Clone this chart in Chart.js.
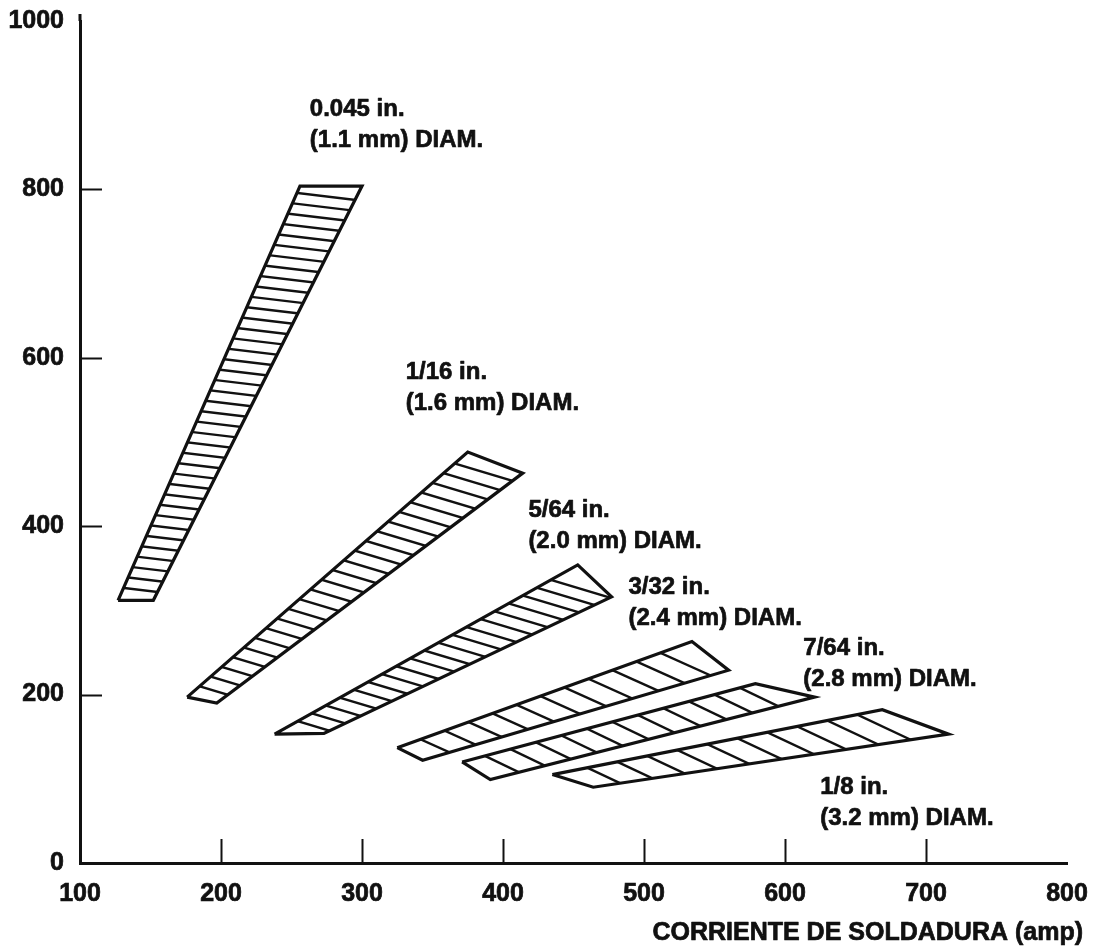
<!DOCTYPE html>
<html>
<head>
<meta charset="utf-8">
<script src="https://cdn.jsdelivr.net/npm/chart.js@4.4.1/dist/chart.umd.min.js"></script>
<style>
  html, body { margin: 0; padding: 0; background: #fff; }
  #c { display: block; }
</style>
</head>
<body>
<canvas id="c" width="1101" height="951"></canvas>
<script>
// Axis ticks
const xTicks = [100, 200, 300, 400, 500, 600, 700, 800];
const yTicks = [0, 200, 400, 600, 800, 1000];

// Electrode diameters
const diametroIn = ['0.045 in.', '1/16 in.', '5/64 in.', '3/32 in.', '7/64 in.', '1/8 in.'];
const diametroMm = ['(1.1 mm) DIAM.', '(1.6 mm) DIAM.', '(2.0 mm) DIAM.', '(2.4 mm) DIAM.', '(2.8 mm) DIAM.', '(3.2 mm) DIAM.'];

// Operating band corners, in order: lower-left, upper-left, upper-right, lower-right
const corriente11 = [127, 256, 300, 152];
const velocidad11 = [312, 804, 804, 312];
const corriente16 = [176, 375, 414, 197];
const velocidad16 = [197, 488, 463, 190];
const corriente20 = [238, 453, 477, 273];
const velocidad20 = [153, 354, 316, 154];
const corriente24 = [325, 534, 560, 343];
const velocidad24 = [137, 263, 229, 122];
const corriente28 = [371, 579, 621, 391];
const velocidad28 = [120, 213, 197, 99];
const corriente32 = [435, 669, 716, 464];
const velocidad32 = [105, 182, 153, 90];

const bandas = [
  [corriente11, velocidad11],
  [corriente16, velocidad16],
  [corriente20, velocidad20],
  [corriente24, velocidad24],
  [corriente28, velocidad28],
  [corriente32, velocidad32]
];

const FONT = '"Liberation Sans", Arial, Helvetica, sans-serif';
const INK = '#111';

const datasets = bandas.map(([xs, ys], i) => {
  const pts = xs.map((x, k) => ({ x, y: ys[k] }));
  pts.push({ x: xs[0], y: ys[0] });
  return {
    label: diametroIn[i],
    data: pts,
    borderColor: INK,
    borderWidth: 3.2,
    pointRadius: 0,
    fill: false,
    tension: 0,
    clip: false
  };
});

// Hatching inside each band: parallel strokes at a fixed slant, clipped to the band outline
const hatchPlugin = {
  id: 'hatch',
  afterDatasetsDraw(chart, args, opts) {
    const { ctx } = chart;
    const xs = chart.scales.x, ys = chart.scales.y;
    ctx.save();
    ctx.strokeStyle = INK;
    ctx.lineWidth = opts.width;
    bandas.forEach(([cx, cy], i) => {
      const p = cx.map((x, k) => [xs.getPixelForValue(x), ys.getPixelForValue(cy[k])]);
      const [bl, tl, tr, br] = p;
      const m0 = [(bl[0] + br[0]) / 2, (bl[1] + br[1]) / 2];
      const m1 = [(tl[0] + tr[0]) / 2, (tl[1] + tr[1]) / 2];
      const s = opts.slopes[i];
      const len = Math.hypot(1, s);
      const d = [1 / len, s / len];
      ctx.save();
      ctx.beginPath();
      p.forEach(([x, y], k) => (k ? ctx.lineTo(x, y) : ctx.moveTo(x, y)));
      ctx.closePath();
      ctx.clip();
      const n = opts.counts[i];
      for (let j = 1; j < n; j++) {
        const t = j / n;
        const c = [m0[0] + (m1[0] - m0[0]) * t, m0[1] + (m1[1] - m0[1]) * t];
        ctx.beginPath();
        ctx.moveTo(c[0] - 150 * d[0], c[1] - 150 * d[1]);
        ctx.lineTo(c[0] + 150 * d[0], c[1] + 150 * d[1]);
        ctx.stroke();
      }
      ctx.restore();
    });
    ctx.restore();
  }
};

// Short inward tick marks on both axes
const tickMarkPlugin = {
  id: 'tickMarks',
  afterDraw(chart, args, opts) {
    const { ctx, chartArea } = chart;
    const xs = chart.scales.x, ys = chart.scales.y;
    ctx.save();
    ctx.strokeStyle = INK;
    ctx.lineWidth = 2;
    xTicks.slice(1, -1).forEach(v => {
      const px = Math.round(xs.getPixelForValue(v)) + 0.5;
      ctx.beginPath();
      ctx.moveTo(px, chartArea.bottom);
      ctx.lineTo(px, chartArea.bottom - opts.xLen);
      ctx.stroke();
    });
    yTicks.slice(1, -1).forEach(v => {
      const py = Math.round(ys.getPixelForValue(v)) + 0.5;
      ctx.beginPath();
      ctx.moveTo(chartArea.left, py);
      ctx.lineTo(chartArea.left + opts.yLen, py);
      ctx.stroke();
    });
    // axis line runs a little past the 1000 mark
    ctx.lineWidth = 3;
    ctx.beginPath();
    ctx.moveTo(chartArea.left, chartArea.top);
    ctx.lineTo(chartArea.left, chartArea.top - opts.yOvershoot);
    ctx.stroke();
    ctx.restore();
  }
};

// Diameter labels next to each band, plus the current axis title
const textPlugin = {
  id: 'bandText',
  afterDraw(chart, args, opts) {
    const { ctx } = chart;
    const xs = chart.scales.x, ys = chart.scales.y;
    ctx.save();
    ctx.fillStyle = INK;
    ctx.strokeStyle = INK;
    ctx.lineWidth = opts.stroke;
    ctx.lineJoin = 'round';
    ctx.font = 'bold ' + opts.size + 'px ' + FONT;
    ctx.textAlign = 'left';
    ctx.textBaseline = 'middle';
    const put = (s, x, y) => { ctx.fillText(s, x, y); ctx.strokeText(s, x, y); };
    opts.anchors.forEach(([ax, ay], i) => {
      const px = xs.getPixelForValue(ax), py = ys.getPixelForValue(ay);
      put(diametroIn[i], px, py);
      put(diametroMm[i], px, py + opts.lineGap);
    });
    ctx.font = 'bold ' + opts.titleSize + 'px ' + FONT;
    ctx.textAlign = 'right';
    put(opts.title, opts.titleX, opts.titleY);
    ctx.restore();
  }
};

const tickFont = { family: FONT, size: 25, weight: 'bold' };
const noEdgePadding = s => {
  s.paddingTop = 0; s.paddingBottom = 0; s.paddingLeft = 0; s.paddingRight = 0;
};

new Chart(document.getElementById('c'), {
  type: 'line',
  data: { datasets },
  plugins: [hatchPlugin, tickMarkPlugin, textPlugin],
  options: {
    responsive: false,
    animation: false,
    devicePixelRatio: 1,
    layout: { padding: { top: 21, right: 34, left: 0, bottom: 0 } },
    plugins: {
      legend: { display: false },
      tooltip: { enabled: false },
      hatch: {
        width: 2.4,
        counts: [40, 25, 20, 12, 12, 11],
        slopes: [0.12, 0.3, 0.3, 0.45, 0.48, 0.47]
      },
      tickMarks: { xLen: 24, yLen: 22, yOvershoot: 7 },
      bandText: {
        size: 24,
        stroke: 0.7,
        lineGap: 31,
        anchors: [[263, 895], [331, 583], [418, 419], [489, 327], [613, 255], [625, 90]],
        title: 'CORRIENTE DE SOLDADURA (amp)',
        titleSize: 25,
        titleX: 1083,
        titleY: 933
      }
    },
    scales: {
      x: {
        type: 'linear',
        position: 'bottom',
        min: 100,
        max: 800,
        afterBuildTicks: s => { s.ticks = xTicks.map(v => ({ value: v })); },
        afterFit: s => { s.height = 88; noEdgePadding(s); },
        grid: { display: false, drawTicks: false },
        border: { display: true, color: INK, width: 3 },
        ticks: {
          color: INK,
          padding: 16,
          maxRotation: 0,
          autoSkip: false,
          textStrokeColor: INK,
          textStrokeWidth: 0.7,
          callback: v => String(v),
          font: tickFont
        }
      },
      y: {
        type: 'linear',
        min: 0,
        max: 1000,
        afterBuildTicks: s => { s.ticks = yTicks.map(v => ({ value: v })); },
        afterFit: s => { s.width = 80; noEdgePadding(s); },
        grid: { display: false, drawTicks: false },
        border: { display: true, color: INK, width: 3 },
        ticks: {
          color: INK,
          padding: 16,
          autoSkip: false,
          textStrokeColor: INK,
          textStrokeWidth: 0.7,
          callback: v => String(v),
          font: tickFont
        }
      }
    }
  }
});
</script>
</body>
</html>
